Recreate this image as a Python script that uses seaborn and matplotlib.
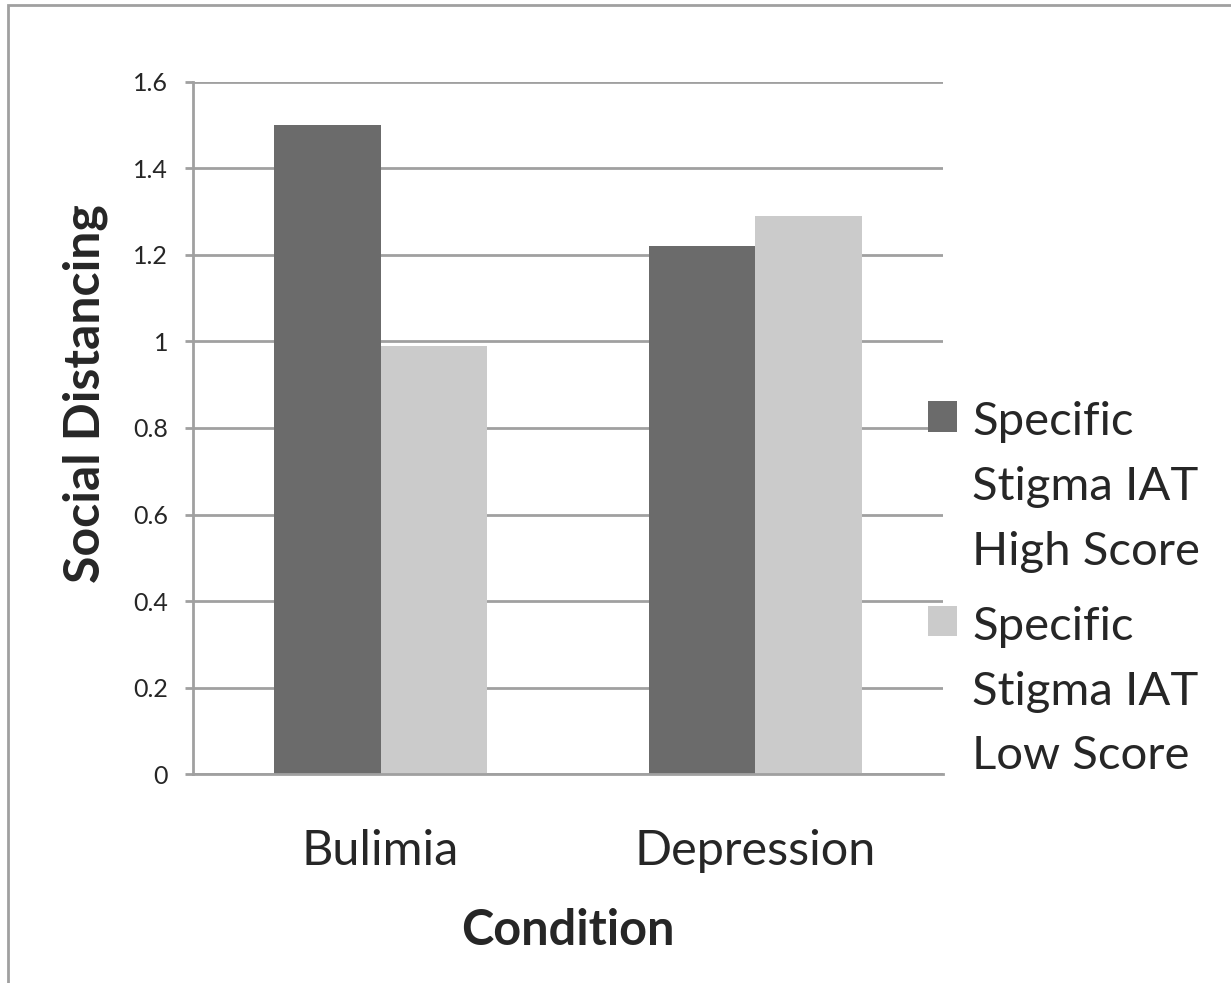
import matplotlib
matplotlib.use("Agg")
import matplotlib.pyplot as plt
import seaborn as sns
import pandas as pd
from matplotlib.patches import Rectangle

# datos
condiciones = ["Bulimia", "Depression"]
grupos = ["Specific\nStigma IAT\nHigh Score", "Specific\nStigma IAT\nLow Score"]
puntaje_alto = [1.50, 1.22]
puntaje_bajo = [0.99, 1.29]
ticks_y = [0, 0.2, 0.4, 0.6, 0.8, 1, 1.2, 1.4, 1.6]
etiquetas_y = ["0", "0.2", "0.4", "0.6", "0.8", "1", "1.2", "1.4", "1.6"]

datos = pd.DataFrame({
    "Condition": condiciones * 2,
    "Grupo": [grupos[0]] * 2 + [grupos[1]] * 2,
    "Valor": puntaje_alto + puntaje_bajo,
})

sns.set_style("white")
plt.rcParams["font.family"] = ["Lato", "DejaVu Sans"]

gris = "#a0a0a0"
fig = plt.figure(figsize=(12.31, 9.83), dpi=100)
ax = fig.add_axes([0.1568, 0.2126, 0.766 - 0.1568, 0.9166 - 0.2126])

sns.barplot(data=datos, x="Condition", y="Valor", hue="Grupo",
            palette=["#6b6b6b", "#cbcbcb"], width=0.57, ax=ax,
            saturation=1, linewidth=0, errorbar=None)

ax.set_ylim(0, 1.6)
ax.set_xlim(-0.5, 1.5)
ax.set_yticks(ticks_y)
ax.set_yticklabels(etiquetas_y, fontsize=18)
ax.yaxis.grid(True, color=gris, linewidth=2)
ax.set_axisbelow(True)
for lado in ["top", "right"]:
    ax.spines[lado].set_visible(False)
for lado in ["left", "bottom"]:
    ax.spines[lado].set_color(gris)
    ax.spines[lado].set_linewidth(2)
ax.tick_params(axis="y", left=True, length=6, width=2, color=gris, pad=12)
ax.tick_params(axis="x", bottom=False, labelsize=35, pad=36)

ax.set_xlabel("Condition", fontsize=35, fontweight="bold", labelpad=25)
ax.set_ylabel("Social Distancing", fontsize=36, fontweight="bold", labelpad=18)
ax.yaxis.label.set_y(0.549)

leg = ax.legend(loc="upper left", bbox_to_anchor=(0.955, 0.566), frameon=False,
                fontsize=34, handlelength=0.61, handleheight=0.61,
                handletextpad=0.32, labelspacing=0.7, borderaxespad=0)
for t in leg.get_texts():
    t.set_linespacing(1.67)
# cuadrito alineado con la primera linea del texto
for columna in leg._legend_handle_box.get_children():
    for fila in columna.get_children():
        fila.align = "top"

# marco de la figura
fig.patches.append(Rectangle((8 / 1231, -0.1), 1.2, 1 - 5 / 983 + 0.1,
                             transform=fig.transFigure, fill=False,
                             edgecolor=gris, linewidth=2))

fig.savefig("out.png", dpi=100)
